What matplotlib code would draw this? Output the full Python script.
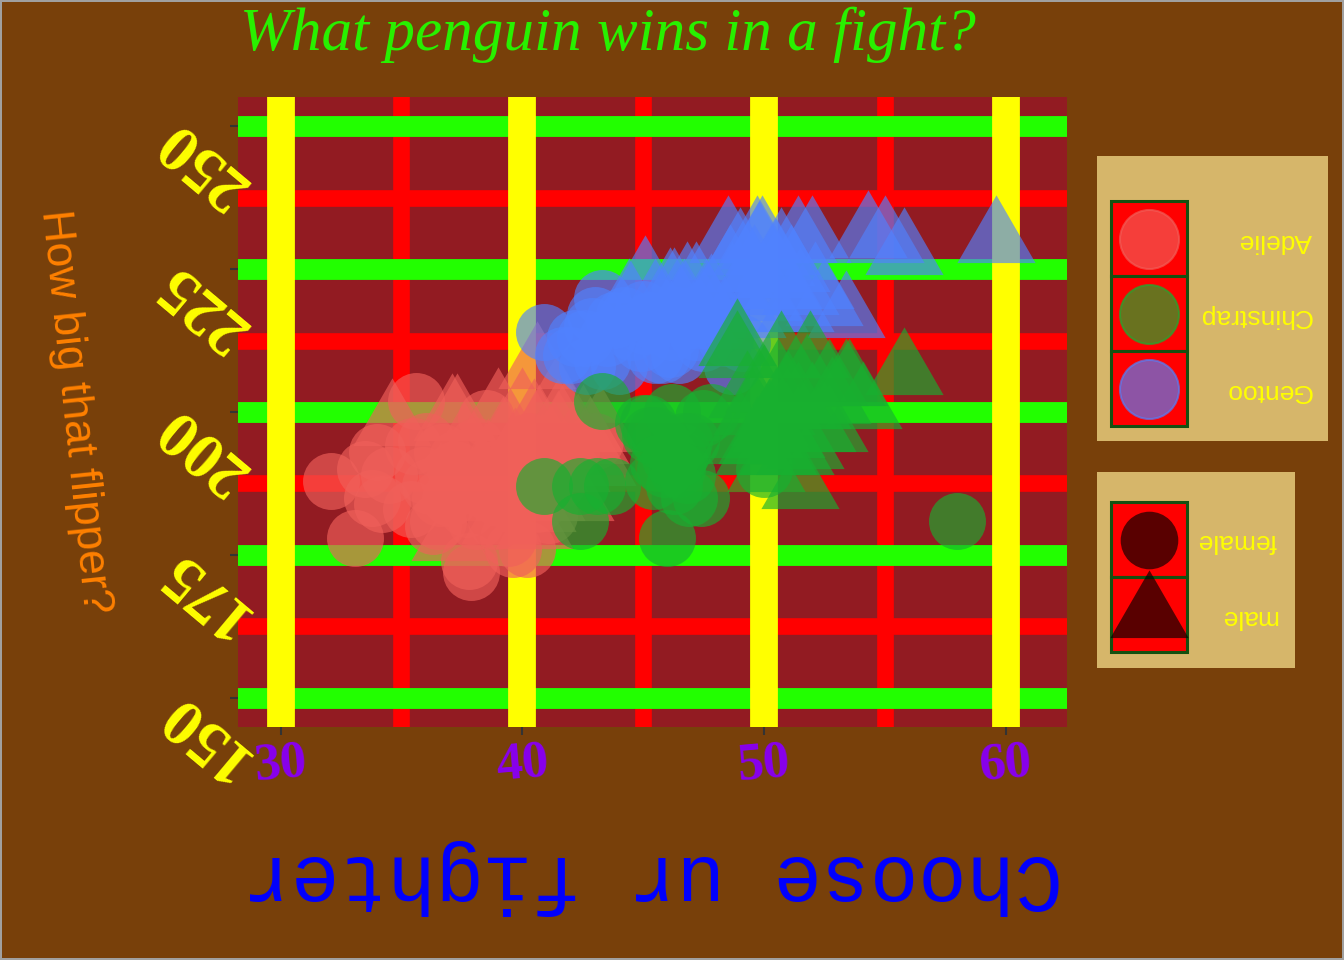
import matplotlib
matplotlib.use('Agg')
import matplotlib.pyplot as plt
from matplotlib.patches import Rectangle
from matplotlib.transforms import ScaledTranslation

# penguin values (bill length mm, flipper length mm)
adelie_bill = [32.1, 33.1, 33.5, 33.8, 34.2, 35.6, 38.5, 37.9, 37.8, 40.2, 39.4, 36.5, 35.4,
               35.9, 36.6, 36.7, 37.0, 37.5, 38.1, 38.6, 38.8, 39.0, 39.5, 40.3, 36.2, 37.3,
               38.9, 36.0, 37.2, 39.6, 40.9, 41.1, 38.1, 35.5, 36.9, 37.7, 40.6, 34.5, 34.0,
               42.0, 41.5, 39.6, 36.3, 43.0,
               34.6, 37.1, 37.3, 40.0, 37.0, 39.1, 39.3, 39.2, 38.6, 42.5, 40.5, 40.6, 41.1,
               42.0, 41.3, 43.2, 42.8, 41.4, 39.7, 40.1, 38.2, 41.8, 40.6, 38.8, 40.8, 41.5,
               39.6, 42.2, 43.1, 41.0, 37.6, 39.0, 40.7, 40.5, 41.5]
adelie_flip = [188, 178, 190, 185, 184, 202, 199, 172, 174, 176, 178, 181, 183,
               189, 185, 193, 185, 187, 181, 186, 190, 185, 186, 195, 187, 192,
               181, 195, 190, 190, 187, 182, 194, 194, 189, 183, 184, 189, 193,
               193, 188, 176, 180, 195,
               198, 199, 199, 200, 178, 181, 190, 195, 191, 197, 180, 183, 190,
               190, 194, 197, 195, 202, 193, 188, 185, 198, 208, 187, 192, 196,
               186, 185, 191, 185, 194, 200, 197, 198, 198]
adelie_sex = ['female'] * 44 + ['male'] * 35

gentoo_bill = [40.9, 41.7, 42.0, 42.7, 43.3, 43.3, 42.9, 43.5, 44.0, 44.5, 45.1, 45.5, 45.8,
               46.1, 46.5, 46.2, 47.2, 45.3, 46.4, 47.5, 44.9, 45.0, 46.9, 48.4, 49.1, 48.7,
               47.0, 44.2, 42.6, 43.8, 48.1, 43.0, 42.2,
               45.1, 46.1, 46.3, 47.2, 48.5, 49.0, 49.7, 49.9, 50.7, 51.4, 52.0, 54.3, 55.0,
               55.8, 59.6, 52.5, 53.4, 44.4, 48.4, 47.3, 49.2, 50.0, 50.8, 51.1, 49.5, 48.6,
               46.8, 47.6, 50.2, 51.3, 52.1, 49.8, 50.4, 46.7, 48.7, 49.6, 50.5, 51.5, 47.8,
               49.3, 45.5]
gentoo_flip = [214, 210, 210, 208, 209, 220, 215, 213, 208, 214, 215, 210, 210,
               211, 210, 214, 214, 216, 217, 212, 212, 218, 216, 213, 212, 208,
               217, 217, 213, 216, 215, 217, 213,
               223, 221, 221, 222, 230, 228, 230, 230, 228, 230, 230, 231, 230,
               228, 230, 219, 217, 219, 215, 216, 221, 220, 222, 225, 224, 225,
               222, 219, 218, 218, 222, 229, 224, 219, 222, 225, 226, 221, 220,
               217, 219]
gentoo_sex = ['female'] * 33 + ['male'] * 41

chinstrap_bill = [58.0, 46.0, 40.9, 42.4, 43.1, 42.4, 43.3, 43.7, 45.0, 45.3, 46.9, 47.4, 50.0,
                  46.6, 45.4, 46.1, 47.8, 46.2, 45.5, 46.4, 45.7, 46.8, 47.0, 45.9, 46.5, 45.2,
                  46.7, 47.5, 46.3, 45.6,
                  48.9, 48.9, 50.7, 51.9, 53.4, 52.7, 54.1, 51.8, 51.5, 52.7, 51.7, 55.8, 49.0,
                  50.0, 50.5, 49.5, 50.8, 51.3, 52.0, 50.2, 49.7, 52.2, 50.3, 51.0, 49.2, 50.9,
                  51.4, 50.6, 52.8, 53.5, 49.6, 50.1, 49.3, 50.0, 50.6]
chinstrap_flip = [181, 178, 187, 187, 187, 181, 202, 187, 198, 196, 185, 185, 190,
                  193, 188, 192, 200, 200, 196, 190, 195, 189, 195, 190, 192, 198,
                  195, 199, 187, 191,
                  212, 210, 210, 210, 205, 205, 201, 206, 187, 197, 194, 207, 196,
                  196, 200, 200, 201, 193, 201, 198, 195, 197, 197, 203, 195, 196,
                  201, 193, 202, 205, 193, 190, 203, 204, 205]
chinstrap_sex = ['female'] * 30 + ['male'] * 35

species = ['Adelie', 'Chinstrap', 'Gentoo']
species_colors = {'Adelie': '#F0605A', 'Chinstrap': '#18B030', 'Gentoo': '#5082FF'}
sexes = ['female', 'male']

x_major = [30, 40, 50, 60]
x_minor = [35, 45, 55]
y_major = [150, 175, 200, 225, 250]
y_minor = [162.5, 187.5, 212.5, 237.5]

tri = [(-1, -0.57735), (1, -0.57735), (0, 1.1547)]
shape_of = {'female': 'o', 'male': tri}
size_of = {'female': 1681, 'male': 4225}
ALPHA = 0.65

fig = plt.figure(figsize=(13.44, 9.6), dpi=100, facecolor='#78400a')
fig.patch.set_edgecolor('#a0a0a0')
fig.patch.set_linewidth(1.5)

ax = fig.add_axes([238 / 1344, 233 / 960, 829 / 1344, 630 / 960])
ax.set_facecolor('#921b22')
ax.set_xlim(28.24, 62.54)
ax.set_ylim(144.93, 255.07)
for s in ax.spines.values():
    s.set_visible(False)

# ugly grid, minor under major, yellow on top
for v in x_minor:
    ax.axvline(v, color='#ff0000', lw=12, zorder=0.5)
for v in y_minor:
    ax.axhline(v, color='#ff0000', lw=12, zorder=0.5)
for v in y_major:
    ax.axhline(v, color='#22ff00', lw=15, zorder=0.6)
for v in x_major:
    ax.axvline(v, color='#ffff00', lw=20, zorder=0.7)

# points, in data order: Adelie, Gentoo, Chinstrap
for name, bx, fy, sx in [('Adelie', adelie_bill, adelie_flip, adelie_sex),
                         ('Gentoo', gentoo_bill, gentoo_flip, gentoo_sex),
                         ('Chinstrap', chinstrap_bill, chinstrap_flip, chinstrap_sex)]:
    for sex in sexes:
        xs = [b for b, g in zip(bx, sx) if g == sex]
        ys = [f for f, g in zip(fy, sx) if g == sex]
        ax.scatter(xs, ys, s=size_of[sex], marker=shape_of[sex], color=species_colors[name],
                   alpha=ALPHA, linewidths=0, zorder=2)

ax.set_xticks(x_major)
ax.set_xticklabels([str(v) for v in x_major], rotation=5, fontsize=38,
                   fontfamily='Liberation Serif', fontweight='bold', color='#8800ee')
ax.set_yticks(y_major)
ax.set_yticklabels([])
ax.tick_params(axis='both', length=6, width=1.5, color='#333333')
ax.tick_params(axis='x', pad=2)

ytrans = ax.get_yaxis_transform() + ScaledTranslation(-0.36, -0.37, fig.dpi_scale_trans)
for v in y_major:
    ax.text(0, v, str(v), transform=ytrans, rotation=140, ha='center', va='center',
            fontsize=47, fontfamily='Liberation Serif', fontweight='bold', color='#ffff00',
            clip_on=False)

ax.set_xlabel('Choose ur fighter', fontfamily='Liberation Mono', fontsize=58,
              color='#0000ff', rotation=180)
ax.xaxis.set_label_coords(0.5, -0.238)
ax.xaxis.label.set_va('center')

ax.set_ylabel('How big that flipper?', fontfamily='Liberation Sans', fontsize=32,
              color='#ff8000', rotation=-84)
ax.yaxis.set_label_coords(-0.197, 0.5)
ax.yaxis.label.set_rotation_mode('default')
ax.yaxis.label.set_ha('center')
ax.yaxis.label.set_va('center')

fig.text(240 / 1344, 1 - 50 / 960, 'What penguin wins in a fight?', ha='left', va='baseline',
         fontsize=44, fontfamily='Liberation Serif', style='italic', color='#28f000')

# legends drawn on an overlay in pixel units
lg = fig.add_axes([0, 0, 1, 1], zorder=5)
lg.set_xlim(0, 1344)
lg.set_ylim(960, 0)
lg.axis('off')

lg.add_patch(Rectangle((1097, 156), 231, 285, facecolor='#d6b66a', edgecolor='none'))
lg.add_patch(Rectangle((1097, 472), 198, 196, facecolor='#d6b66a', edgecolor='none'))

key_w, key_h = 76, 75
for i, name in enumerate(species):
    top = 201 + i * key_h
    lg.add_patch(Rectangle((1111, top), key_w, key_h, facecolor='#ff0000',
                           edgecolor='#145010', lw=2.2))
    lg.scatter([1149], [top + key_h / 2], s=1805, marker='o', color=species_colors[name],
               alpha=ALPHA, edgecolors=species_colors[name], linewidths=1.5, zorder=3)
    lg.text(1312, top + key_h / 2 + 2, name, rotation=180, ha='right', va='center',
            fontsize=19, fontfamily='Liberation Sans', color='#ffff00')

for i, sex in enumerate(sexes):
    top = 502 + i * key_h
    lg.add_patch(Rectangle((1111, top), key_w, key_h, facecolor='#ff0000',
                           edgecolor='#145010', lw=2.2))
for i, sex in enumerate(sexes):
    top = 502 + i * key_h
    lg.scatter([1149], [top + key_h / 2], s=1720 if sex == 'female' else 4225,
               marker=shape_of[sex], color='black', alpha=ALPHA, linewidths=0, zorder=3)
    lg.text(1277, top + key_h / 2 + 2, sex, rotation=180, ha='right', va='center',
            fontsize=19, fontfamily='Liberation Sans', color='#ffff00')

fig.savefig('out.png', dpi=100, facecolor=fig.get_facecolor(), edgecolor=fig.patch.get_edgecolor())
